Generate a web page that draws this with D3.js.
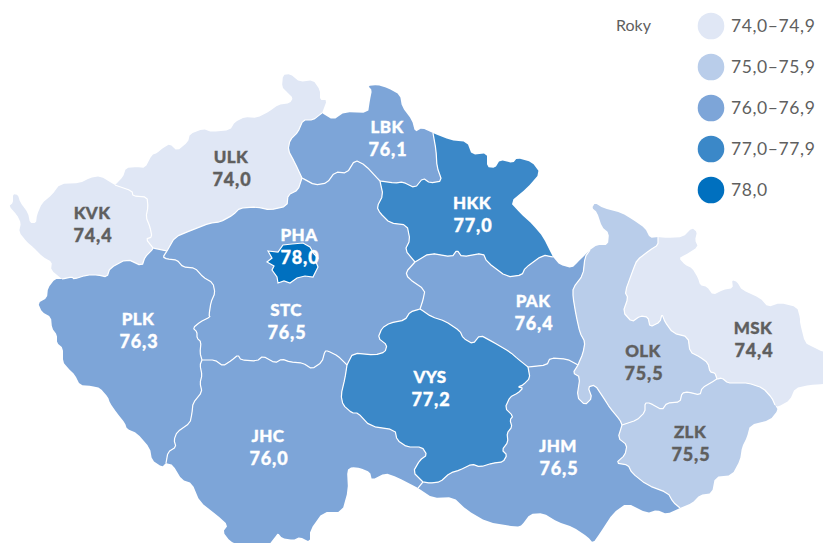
<!DOCTYPE html>
<html>
<head>
<meta charset="utf-8">
<script src="https://cdn.jsdelivr.net/npm/d3@7"></script>
<style>
  html, body { margin: 0; padding: 0; background: #fff; overflow: hidden; }
  text { font-family: Lato, "Open Sans", sans-serif; }
</style>
</head>
<body>
<svg id="chart" width="823" height="543"></svg>
<script>
const regionCodes = ["KVK","ULK","LBK","HKK","PAK","OLK","MSK","ZLK","JHM","VYS","JHC","PLK","STC","PHA"];
const regionValues = [74.4,74.0,76.1,77.0,76.4,75.5,74.4,75.5,76.5,77.2,76.0,76.3,76.5,78.0];
const legendLabels = ["74,0–74,9","75,0–75,9","76,0–76,9","77,0–77,9","78,0"];
const legendTitle = "Roky";
const thresholds = [75,76,77,78];
const colors = ["#e0e7f5","#b9cdea","#7da5d8","#3b88c8","#0070bf"];

const borders = {
  kvkOut: [[115,185],[100,176],[90,178],[80,183],[60,184],[52,195],[42,203],[37,215],[36,223],[30,223],[28,213],[20,202],[18,195],[13,194],[13,203],[9,206],[17,215],[21,223],[19,232],[27,242],[33,247],[43,257],[52,262],[51,270],[62,279]],
  kvkPlk: [[62,279],[72,277],[74,279],[87,275],[98,275],[107,277],[110,268],[127,259],[142,266],[145,257],[152,250],[153,248]],
  kvkUlk: [[115,185],[132,191],[133,196],[147,197],[148,207],[146,217],[150,227],[152,237],[146,239],[153,248]],
  ulkPlk: [[153,248],[167,251]],
  plkStc: [[167,251],[163,257],[167,259],[177,260],[183,267],[195,268],[203,277],[213,283],[215,293],[211,302],[209,315],[210,317],[200,322],[193,328],[197,332],[197,338],[201,342],[200,353],[202,360]],
  plkJhc: [[202,360],[200,365],[202,375],[200,383],[202,392],[193,403],[192,413],[190,423],[177,432],[174,440],[176,447],[168,452],[166,463]],
  plkOut: [[62,279],[55,279],[48,288],[47,298],[38,303],[42,312],[51,317],[52,328],[57,335],[57,343],[63,348],[63,362],[68,368],[75,375],[80,385],[92,386],[100,388],[108,397],[110,403],[117,413],[125,423],[127,429],[137,433],[150,448],[152,460],[162,467],[166,463]],
  jhcOut: [[166,463],[173,465],[182,480],[192,483],[200,502],[217,515],[228,525],[223,532],[230,541],[240,546],[268,546],[275,537],[278,533],[282,538],[293,540],[300,537],[310,542],[310,530],[323,512],[342,512],[348,490],[347,470],[352,467],[360,468],[370,472],[372,480],[385,473],[397,477],[418,488]],
  stcJhc: [[202,360],[215,360],[223,366],[232,360],[238,355],[241,360],[257,361],[263,356],[275,363],[282,359],[290,362],[303,363],[312,369],[322,362],[325,351],[328,351],[338,356],[347,365]],
  stcVys: [[347,365],[353,353],[375,355],[385,352],[387,345],[378,338],[382,328],[390,323],[405,320],[410,312],[420,309]],
  vysJhc: [[347,365],[345,378],[341,395],[343,405],[352,413],[358,413],[370,426],[395,430],[397,440],[407,447],[422,447],[427,455],[420,460],[413,472],[423,482]],
  jhcJhm: [[423,482],[418,488]],
  vysJhm: [[423,482],[430,483],[440,482],[450,473],[460,470],[472,464],[480,467],[493,463],[503,462],[507,455],[502,450],[508,442],[507,433],[512,427],[510,420],[513,416],[505,408],[510,397],[518,393],[523,388],[518,387],[523,385],[530,378],[528,367]],
  vysPak: [[420,309],[432,317],[445,321],[460,331],[463,338],[473,344],[480,335],[493,342],[510,352],[518,359],[528,367]],
  pakJhm: [[528,367],[547,365],[550,358],[567,359],[578,365]],
  pakOlk: [[590,250],[585,257],[583,275],[573,288],[573,297],[576,315],[580,333],[585,342],[583,353],[578,365]],
  olkJhm: [[578,365],[573,373],[580,377],[577,397],[585,405],[592,398],[588,387],[595,385],[603,397],[610,408],[620,420],[622,425]],
  jhmZlk: [[622,425],[618,438],[627,445],[625,455],[616,463],[628,465],[632,473],[647,485],[668,493],[673,502],[680,508]],
  jhmOut: [[418,488],[433,498],[453,497],[467,510],[487,522],[517,527],[522,525],[530,514],[543,513],[558,522],[573,527],[588,537],[593,543],[600,533],[613,513],[627,503],[647,513],[657,510],[667,514],[680,508]],
  zlkOut: [[680,508],[692,503],[700,495],[712,493],[715,477],[732,475],[740,460],[742,447],[747,437],[750,425],[770,420],[778,410],[775,405]],
  zlkMsk: [[775,405],[772,398],[763,388],[748,383],[737,383],[728,383],[722,378],[717,379]],
  zlkOlk: [[622,425],[637,420],[645,412],[645,403],[650,403],[662,410],[667,403],[680,402],[682,393],[688,392],[700,395],[702,388],[712,382],[717,379]],
  olkMsk: [[717,379],[715,373],[710,372],[708,363],[700,357],[690,352],[688,337],[673,333],[665,322],[662,314],[660,322],[650,327],[648,317],[640,316],[632,322],[623,312],[628,298],[625,292],[633,270],[637,260],[650,250],[658,245],[658,237]],
  olkOut: [[590,250],[597,245],[608,245],[609,233],[602,227],[597,212],[592,208],[595,203],[603,208],[622,213],[633,220],[645,228],[650,238],[658,237]],
  mskOut: [[658,237],[667,238],[683,237],[692,228],[697,232],[695,240],[698,247],[685,255],[679,258],[685,265],[692,268],[698,278],[700,285],[707,287],[713,295],[723,290],[733,288],[732,280],[737,282],[742,290],[760,298],[768,307],[780,303],[797,307],[800,318],[800,323],[805,343],[813,347],[823,352],[830,352],[830,384],[823,384],[810,385],[795,388],[790,400],[778,407],[775,405]],
  ulkOut: [[115,185],[123,177],[126,168],[137,167],[145,168],[152,155],[157,153],[163,148],[170,144],[177,151],[188,142],[190,134],[203,129],[212,132],[230,130],[235,122],[245,117],[257,118],[270,111],[278,105],[290,103],[293,98],[287,92],[282,87],[283,75],[290,74],[300,82],[313,80],[320,90],[320,100],[327,100],[322,113]],
  lbkOut: [[322,113],[333,120],[345,112],[368,113],[370,100],[372,90],[368,86],[377,85],[388,88],[400,95],[402,107],[412,120],[415,132],[422,128],[433,133]],
  ulkLbk: [[322,113],[313,120],[303,120],[298,132],[290,140],[288,150],[295,163],[302,178]],
  ulkStc: [[167,251],[175,237],[192,230],[210,223],[220,222],[233,215],[240,208],[257,207],[270,210],[287,206],[288,195],[298,190],[302,178]],
  lbkStc: [[302,178],[315,185],[327,183],[335,172],[347,173],[355,160],[365,165],[380,181]],
  lbkHkk: [[380,181],[395,183],[403,182],[415,188],[423,178],[430,183],[442,181],[437,167],[436,150],[433,133]],
  stcHkk: [[380,181],[383,195],[377,207],[380,213],[390,223],[407,225],[410,240],[405,250],[415,262]],
  stcPak: [[415,262],[406,272],[408,278],[425,290],[423,300],[420,309]],
  hkkPak: [[415,262],[430,253],[452,257],[457,250],[462,257],[483,253],[487,262],[507,277],[522,275],[525,268],[543,255],[553,257]],
  hkkOut: [[433,133],[450,140],[467,142],[472,155],[487,153],[487,167],[495,168],[500,160],[513,163],[517,158],[532,162],[540,173],[527,188],[510,202],[520,213],[533,225],[543,237],[553,257]],
  pakOut: [[553,257],[560,265],[572,268],[578,262],[585,255],[590,250]],
  phaRing: [[268,251],[278,252],[283,245],[292,244],[303,243],[310,247],[314,254],[318,258],[316,262],[318,267],[313,277],[305,276],[297,278],[290,283],[284,281],[278,283],[277,277],[272,270],[274,266],[267,262],[272,258],[268,251]]
};

// a leading minus means the border is walked backwards
const regionRings = {
  KVK: ["kvkUlk","-kvkPlk","-kvkOut"],
  ULK: ["ulkOut","ulkLbk","-ulkStc","-ulkPlk","-kvkUlk"],
  LBK: ["lbkOut","-lbkHkk","-lbkStc","-ulkLbk"],
  HKK: ["hkkOut","-hkkPak","-stcHkk","lbkHkk"],
  PAK: ["pakOut","pakOlk","-pakJhm","-vysPak","-stcPak","hkkPak"],
  OLK: ["olkOut","-olkMsk","-zlkOlk","-olkJhm","-pakOlk"],
  MSK: ["mskOut","zlkMsk","olkMsk"],
  ZLK: ["zlkOlk","-zlkMsk","-zlkOut","-jhmZlk"],
  JHM: ["jhmOut","-jhmZlk","-olkJhm","-pakJhm","-vysJhm","jhcJhm"],
  VYS: ["stcVys","vysPak","-vysJhm","-vysJhc"],
  JHC: ["stcJhc","vysJhc","jhcJhm","-jhcOut","-plkJhc"],
  PLK: ["kvkPlk","ulkPlk","plkStc","plkJhc","-plkOut"],
  STC: ["ulkStc","lbkStc","stcHkk","stcPak","-stcVys","-stcJhc","-plkStc"],
  PHA: ["phaRing"]
};
const innerBorders = Object.keys(borders).filter(k => !k.endsWith("Out") && k !== "phaRing");

// label anchors (first line baseline)
const labelPos = {
  KVK:[92,219], ULK:[231,163], LBK:[387,133], HKK:[472,209], PAK:[533,307], OLK:[643,357], MSK:[753,334],
  ZLK:[690,438], JHM:[558,452], VYS:[430,383], JHC:[268,442], PLK:[138,325], STC:[286,316], PHA:[299,241]
};

const svg = d3.select("#chart");
const color = d3.scaleThreshold().domain(thresholds).range(colors);
const path = d3.geoPath(d3.geoIdentity());

// corner cutting, ends stay put so neighbouring borders still meet
function soften(line) {
  const out = [line[0]];
  for (let i = 0; i < line.length - 1; i++) {
    const a = line[i], b = line[i + 1];
    out.push([a[0] * .8 + b[0] * .2, a[1] * .8 + b[1] * .2]);
    out.push([a[0] * .2 + b[0] * .8, a[1] * .2 + b[1] * .8]);
  }
  out.push(line[line.length - 1]);
  return out;
}
const softBorders = {};
Object.keys(borders).forEach(k => { softBorders[k] = k === "phaRing" ? borders[k] : soften(borders[k]); });

function ringOf(code) {
  let pts = [];
  regionRings[code].forEach(name => {
    const back = name[0] === "-";
    const line = softBorders[back ? name.slice(1) : name];
    pts = pts.concat(back ? line.slice().reverse() : line);
  });
  return pts;
}

const regions = regionCodes.map((code, i) => ({ code, value: regionValues[i] }));

svg.append("g").selectAll("path")
  .data(regions.filter(d => d.code !== "PHA"))
  .join("path")
  .attr("d", d => path({ type: "Polygon", coordinates: [ringOf(d.code)] }))
  .attr("fill", d => color(d.value));

svg.append("g").selectAll("path")
  .data(innerBorders)
  .join("path")
  .attr("d", k => path({ type: "LineString", coordinates: softBorders[k] }))
  .attr("fill", "none")
  .attr("stroke", "#fff")
  .attr("stroke-width", 1.2)
  .attr("stroke-linejoin", "round");

svg.append("path")
  .datum(regions.find(d => d.code === "PHA"))
  .attr("d", d => path({ type: "Polygon", coordinates: [ringOf(d.code)] }))
  .attr("fill", d => color(d.value))
  .attr("stroke", "#fff")
  .attr("stroke-width", 1.2);

const fmt = v => v.toFixed(1).replace(".", ",");
const labels = svg.append("g").selectAll("g")
  .data(regions)
  .join("g")
  .attr("transform", d => `translate(${labelPos[d.code]})`)
  .attr("text-anchor", "middle")
  .attr("font-weight", 900)
  .attr("font-size", 17)
  .attr("letter-spacing", 0.4)
  .attr("fill", d => d.value < 76 ? "#5f5f5f" : "#fff")
  .attr("stroke", d => d.value < 76 ? "#5f5f5f" : "#fff")
  .attr("stroke-width", 0.35);
labels.append("text").text(d => d.code);
labels.append("text").attr("x", 1).attr("y", 23).attr("font-size", 18).attr("letter-spacing", 0.8).text(d => fmt(d.value));

// legend
const legendY = d3.scalePoint().domain(legendLabels).range([26, 190]);
const legend = svg.append("g");
legend.append("text").attr("x", 616).attr("y", 31).attr("font-size", 16).attr("fill", "#5f5f5f").text(legendTitle);
legend.selectAll("circle")
  .data(legendLabels)
  .join("circle")
  .attr("cx", 711)
  .attr("cy", d => legendY(d))
  .attr("r", 13.3)
  .attr("fill", (d, i) => colors[i]);
legend.selectAll("text.item")
  .data(legendLabels)
  .join("text")
  .attr("class", "item")
  .attr("x", 731)
  .attr("y", d => legendY(d) + 6)
  .attr("font-size", 17.5)
  .attr("letter-spacing", 0.6)
  .attr("fill", "#5f5f5f")
  .text(d => d);
</script>
</body>
</html>
